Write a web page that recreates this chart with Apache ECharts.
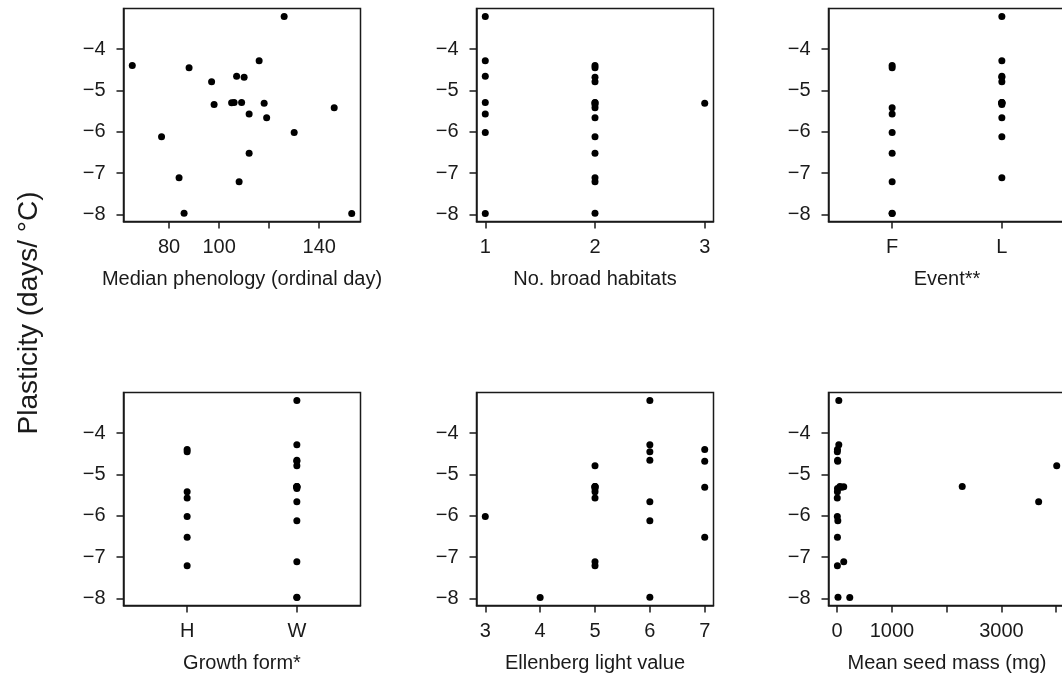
<!DOCTYPE html>
<html>
<head>
<meta charset="utf-8">
<script src="https://cdn.jsdelivr.net/npm/echarts@6/dist/echarts.min.js"></script>
<style>
  html, body { margin: 0; padding: 0; background: #fff; }
  #chart { width: 1062px; height: 684px; }
</style>
</head>
<body>
<div id="chart"></div>
<script>
// Species-level traits: one entry per species, same order in every array.
const plasticity = [-3.21, -4.28, -4.40, -4.45, -4.66, -4.68, -4.79, -5.29, -5.29, -5.30, -5.31,
                    -5.34, -5.42, -5.57, -5.66, -6.02, -6.12, -6.52, -7.11, -7.21, -7.97, -7.98];
const phenology  = [126, 116, 65.3, 88, 107, 110, 97, 106, 109, 105, 118,
                    98, 146, 112, 119, 130, 77, 112, 84, 108, 86, 153];
const habitats   = [1, 1, 2, 2, 1, 2, 2, 1, 2, 2, 3, 2, 2, 1, 2, 1, 2, 2, 2, 2, 2, 1];
const eventType  = ['L', 'L', 'F', 'F', 'L', 'L', 'L', 'L', 'L', 'L', 'L',
                    'L', 'F', 'F', 'L', 'F', 'L', 'F', 'L', 'F', 'F', 'F'];
const growthForm = ['W', 'W', 'H', 'H', 'W', 'W', 'W', 'W', 'W', 'W', 'W',
                    'W', 'H', 'H', 'W', 'H', 'W', 'H', 'W', 'H', 'W', 'W'];
const lightValue = [6, 6, 7, 6, 6, 7, 5, 5, 5, 5, 7, 5, 5, 5, 6, 3, 6, 7, 5, 5, 6, 4];
const seedMass   = [30, 30, 5, 3, 8, 10, 4010, 50, 2284, 120, 80,
                    6, 4, 2, 3680, 3, 12, 5, 120, 4, 15, 230];

// Category levels and tick positions / labels
const eventLevels  = ['F', 'L'];
const growthLevels = ['H', 'W'];
const yTicks = [-8, -7, -6, -5, -4];
const phenologyTicks  = [80, 100, 120, 140];
const phenologyLabels = [80, 100, 140];
const habitatTicks = [1, 2, 3];
const lightTicks   = [3, 4, 5, 6, 7];
const seedTicks    = [0, 1000, 2000, 3000, 4000];
const seedLabels   = [0, 1000, 3000];

const INK = '#1a1a1a';
const FONT = '"Liberation Sans", Arial, Helvetica, sans-serif';
const FS = 20;

// Axis limits padded by 4% of the data range on each side
function padded(lo, hi) {
  const d = (hi - lo) * 0.04;
  return [lo - d, hi + d];
}
function rangeOf(vals) {
  return padded(Math.min(...vals), Math.max(...vals));
}
const yRange = rangeOf(plasticity);
const minusSign = v => String(v).replace('-', '\u2212');

const panels = [
  { name: 'Median phenology (ordinal day)', x: phenology, range: rangeOf(phenology),
    ticks: phenologyTicks, labels: phenologyLabels },
  { name: 'No. broad habitats', x: habitats, range: rangeOf(habitats),
    ticks: habitatTicks, labels: habitatTicks },
  { name: 'Event**', x: eventType.map(e => eventLevels.indexOf(e) + 1),
    range: padded(0.5, eventLevels.length + 0.5), ticks: [1, 2], labels: [1, 2], levels: eventLevels },
  { name: 'Growth form*', x: growthForm.map(g => growthLevels.indexOf(g) + 1),
    range: padded(0.5, growthLevels.length + 0.5), ticks: [1, 2], labels: [1, 2], levels: growthLevels },
  { name: 'Ellenberg light value', x: lightValue, range: rangeOf(lightValue),
    ticks: lightTicks, labels: lightTicks },
  { name: 'Mean seed mass (mg)', x: seedMass, range: rangeOf(seedMass),
    ticks: seedTicks, labels: seedLabels }
];

const colLeft = [123.5, 476.5, 828.5];
const rowTop = [8.5, 392.5];
const panelW = 237;
const panelH = 213;

const grids = [], xAxes = [], yAxes = [], series = [];
panels.forEach((p, i) => {
  const col = i % 3, row = Math.floor(i / 3);
  grids.push({
    left: colLeft[col], top: rowTop[row], width: panelW, height: panelH,
    show: true, borderColor: INK, borderWidth: 1.5, backgroundColor: 'transparent',
    containLabel: false, outerBoundsMode: 'none'
  });
  xAxes.push({
    type: 'value', gridIndex: i, min: p.range[0], max: p.range[1],
    axisLine: { show: true, onZero: false, lineStyle: { color: INK, width: 1.5 } },
    axisTick: { show: true, inside: false, length: 7, customValues: p.ticks,
                lineStyle: { color: INK, width: 1.5 } },
    axisLabel: {
      customValues: p.labels, margin: 16, fontSize: FS, color: INK, fontFamily: FONT,
      formatter: v => p.levels ? p.levels[Math.round(v) - 1] : String(v)
    },
    splitLine: { show: false },
    name: p.name, nameLocation: 'middle', nameGap: 48,
    nameTextStyle: { fontSize: FS, color: INK, fontFamily: FONT }
  });
  yAxes.push({
    type: 'value', gridIndex: i, min: yRange[0], max: yRange[1],
    axisLine: { show: true, onZero: false, lineStyle: { color: INK, width: 1.5 } },
    axisTick: { show: true, inside: false, length: 7, customValues: yTicks,
                lineStyle: { color: INK, width: 1.5 } },
    axisLabel: { customValues: yTicks, margin: 18, fontSize: FS, color: INK, fontFamily: FONT,
                 formatter: minusSign },
    splitLine: { show: false }
  });
  series.push({
    type: 'scatter', xAxisIndex: i, yAxisIndex: i,
    data: p.x.map((v, k) => [v, plasticity[k]]),
    symbol: 'circle', symbolSize: 7,
    itemStyle: { color: '#000', opacity: 1 }, silent: true
  });
});

const chart = echarts.init(document.getElementById('chart'), null, { renderer: 'canvas' });
chart.setOption({
  animation: false,
  backgroundColor: '#fff',
  grid: grids, xAxis: xAxes, yAxis: yAxes, series: series,
  graphic: [{
    type: 'text', x: 29, y: 313, rotation: Math.PI / 2,
    style: { text: 'Plasticity (days/ \u00b0C)', fontSize: 28, fontFamily: FONT, fill: INK,
             align: 'center', verticalAlign: 'middle' }
  }]
});
</script>
</body>
</html>
